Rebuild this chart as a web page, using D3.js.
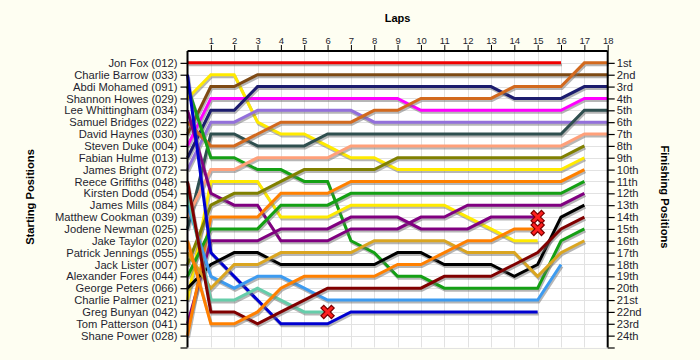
<!DOCTYPE html>
<html><head><meta charset="utf-8">
<script src="https://cdn.jsdelivr.net/npm/d3@7"></script>
<style>
body{margin:0;background:#FEFEF2;}
svg{display:block;font-family:Arial,"Liberation Sans",sans-serif;}
</style>
</head><body>
<svg id="c" width="700" height="360"></svg>
<script>
// ---------- data ----------
const startingNames = ["Jon Fox (012)","Charlie Barrow (033)","Abdi Mohamed (091)","Shannon Howes (029)",
  "Lee Whittingham (034)","Samuel Bridges (022)","David Haynes (030)","Steven Duke (004)",
  "Fabian Hulme (013)","James Bright (072)","Reece Griffiths (048)","Kirsten Dodd (054)",
  "James Mills (084)","Matthew Cookman (039)","Jodene Newman (025)","Jake Taylor (020)",
  "Patrick Jennings (055)","Jack Lister (007)","Alexander Fores (044)","George Peters (066)",
  "Charlie Palmer (021)","Greg Bunyan (042)","Tom Patterson (041)","Shane Power (028)"];
const finishLabels = ["1st","2nd","3rd","4th","5th","6th","7th","8th","9th","10th","11th","12th",
  "13th","14th","15th","16th","17th","18th","19th","20th","21st","22nd","23rd","24th"];
const lapTicks = [1,2,3,4,5,6,7,8,9,10,11,12,13,14,15,16,17,18];
const positionTicks = [1,2,3,4,5,6,7,8,9,10,11,12,13,14,15,16,17,18,19,20,21,22,23,24,25];

// position of each car at lap 0,1,2,... (lap 0 = starting grid)
const seriesPositions = [
  [1,1,1,1,1,1,1,1,1,1,1,1,1,1,1,1,1],
  [4,2,2,6,7,7,8,9,9,10,10,10,10,10,10,10,10,9],
  [7,3,3,2,2,2,2,2,2,2,2,2,2,2,2,2,2,2,2],
  [8,4,4,4,4,4,4,4,4,4,5,5,5,5,5,5,5,4,4],
  [9,5,5,3,3,3,3,3,3,3,3,3,3,3,4,4,4,3,3],
  [10,6,6,5,5,5,5,5,6,6,6,6,6,6,6,6,6,6,6],
  [15,7,7,8,8,8,7,7,7,7,7,7,7,7,7,7,7,5,5],
  [6,8,8,7,6,6,6,6,5,5,4,4,4,4,3,3,3,1,1],
  [3,9,9,10,10,11,11,16,17,19,19,20,20,20,20,20,16,15],
  [14,10,10,9,9,9,9,8,8,8,8,8,8,8,8,8,8,7,7],
  [21,11,11,11,14,14,14,13,13,13,13,13,14,15,16,16],
  [5,12,13,13,16,16,16,15,15,15,14,14,13,13,13,13,13,12],
  [23,16,16,16,15,15,15,14,14,14,15,15,15,14,14,14],
  [18,13,12,12,11,10,10,10,10,9,9,9,9,9,9,9,9,8],
  [24,14,14,14,12,12,12,11,11,11,11,11,11,11,11,11,11,10],
  [19,15,15,15,13,13,13,12,12,12,12,12,12,12,12,12,12,11],
  [2,17,19,21,23,23,23,22,22,22,22,22,22,22,22,22],
  [20,18,17,17,18,18,18,18,18,17,17,18,18,18,19,18,14,13],
  [13,19,20,19,19,20,21,21,21,21,21,21,21,21,21,21,18],
  [17,20,18,18,17,17,17,17,16,16,16,16,17,17,17,19,17,16],
  [12,21,21,20,21,22,22],
  [11,22,22,23,22,21,20,20,20,20,20,19,19,19,18,17,15,14],
  [16,23,23,22,20,19,19,19,19,18,18,17,16,16,15,15]
];
const seriesRetired = [false,false,false,false,false,false,false,false,false,false,false,false,true,
  false,false,false,false,false,false,false,true,false,true];

// ---------- style ----------
const seriesColors = ["#F00000","#FFEA00","#7E4A14","#FF00FF","#1C1C6E","#9370DB","#2F4F4F","#D2691E",
  "#14A014","#FFA07A","#FFEA00","#800080","#800080","#808000","#FF8000","#14A014","#0000D0",
  "#000000","#3D9BF0","#DAA520","#66CDAA","#800000","#FF8000"];

const svg = d3.select("#c");
const x = d3.scaleLinear().domain([0,18]).range([187.5,607.7]);
const y = d3.scaleLinear().domain([0,25]).range([51,347.5]);

// plot background
svg.append("rect").attr("x",x(0)).attr("y",y(0)).attr("width",x(18)-x(0)).attr("height",y(25)-y(0))
  .attr("fill","#FFFFFF");

// grid
const grid = svg.append("g").attr("stroke","#E2E2E2").attr("stroke-width",1);
grid.selectAll("line.v").data(lapTicks.slice(0,-1)).join("line").attr("class","v")
  .attr("x1",d=>Math.round(x(d))+0.5).attr("x2",d=>Math.round(x(d))+0.5)
  .attr("y1",y(0)).attr("y2",y(25));
grid.selectAll("line.h").data(positionTicks).join("line").attr("class","h")
  .attr("x1",x(0)).attr("x2",x(18))
  .attr("y1",d=>Math.round(y(d))+0.5).attr("y2",d=>Math.round(y(d))+0.5);

// series
const lineGen = d3.line().x((d,i)=>x(i)).y(d=>y(d));
const gS = svg.append("g");
seriesPositions.forEach((pos,k)=>{
  gS.append("path").attr("d",lineGen(pos)).attr("fill","none")
    .attr("stroke","#6E6E6E").attr("stroke-opacity",0.5).attr("stroke-width",3)
    .attr("transform","translate(1,2)");
  gS.append("path").attr("d",lineGen(pos)).attr("fill","none")
    .attr("stroke",seriesColors[k]).attr("stroke-width",3);
});
// retirement markers
seriesPositions.forEach((pos,k)=>{
  if(!seriesRetired[k]) return;
  const lx = x(pos.length-1), ly = y(pos[pos.length-1]);
  const m = svg.append("g").attr("transform",`translate(${lx},${ly})`);
  const p = "M-3.8,-3.8L3.8,3.8M3.8,-3.8L-3.8,3.8";
  m.append("path").attr("d",p).attr("stroke","#7A0000").attr("stroke-width",5.2).attr("stroke-linecap","square");
  m.append("path").attr("d",p).attr("stroke","#FF2020").attr("stroke-width",2.8).attr("stroke-linecap","square");
});

// axes
const txtCol = "#1E1E30";
const leftAx = svg.append("g").attr("transform",`translate(${x(0)},0)`)
  .call(d3.axisLeft(y).tickValues(positionTicks).tickSize(7).tickPadding(3)
    .tickFormat(d=>startingNames[d-1]||""));
const rightAx = svg.append("g").attr("transform",`translate(${x(18)},0)`)
  .call(d3.axisRight(y).tickValues(positionTicks).tickSize(7).tickPadding(2)
    .tickFormat(d=>finishLabels[d-1]||""));
const topAx = svg.append("g").attr("transform",`translate(0,${y(0)})`)
  .call(d3.axisTop(x).tickValues(lapTicks).tickSize(6).tickPadding(1).tickFormat(d=>d));
[leftAx,rightAx].forEach(g=>{
  g.select(".domain").attr("stroke","#000").attr("stroke-width",2)
    .attr("d",`M0,${y(0)}V${y(25)}`);
  g.selectAll(".tick line").attr("stroke","#000").attr("stroke-width",1.2);
  g.selectAll(".tick text").attr("font-size",11.2).attr("fill",txtCol)
    .attr("font-family","Arial, 'Liberation Sans', sans-serif");
});
topAx.select(".domain").attr("stroke","#000").attr("stroke-width",2).attr("d",`M${x(0)},0H${x(18)}`);
topAx.selectAll(".tick line").attr("stroke","#000").attr("stroke-width",1);
topAx.selectAll(".tick text").attr("font-size",9.5).attr("fill",txtCol)
  .attr("font-family","Arial, 'Liberation Sans', sans-serif");

// titles
svg.append("text").attr("x",(x(0)+x(18))/2).attr("y",22).attr("text-anchor","middle")
  .attr("font-weight","bold").attr("font-size",11).attr("fill","#000").text("Laps");
svg.append("text").attr("transform","translate(34,197) rotate(-90)").attr("text-anchor","middle")
  .attr("font-weight","bold").attr("font-size",11.2).attr("fill","#000").text("Starting Positions");
svg.append("text").attr("transform","translate(661,197) rotate(90)").attr("text-anchor","middle")
  .attr("font-weight","bold").attr("font-size",11.2).attr("fill","#000").text("Finishing Positions");
</script>
</body></html>
